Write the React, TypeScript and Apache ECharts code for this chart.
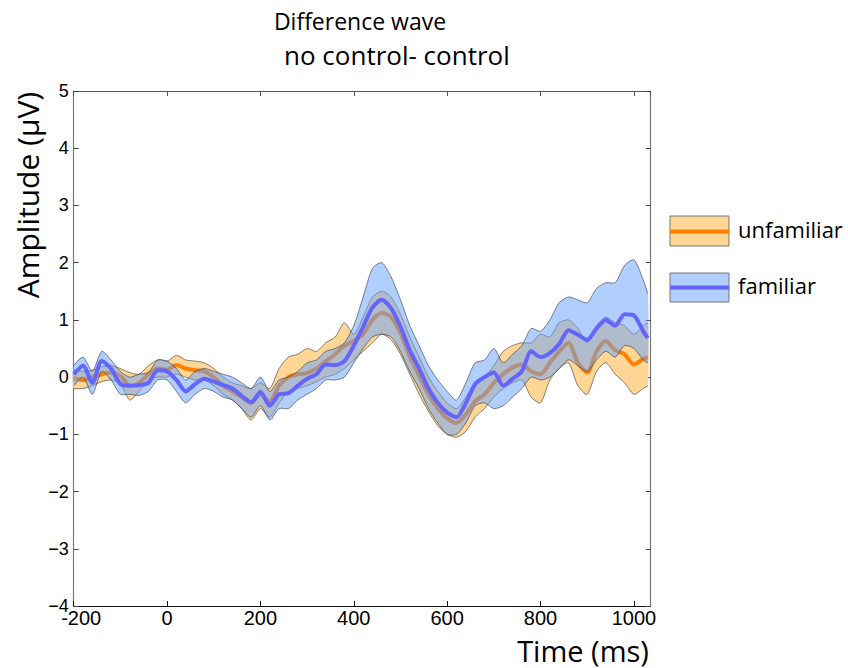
import React, { useEffect, useRef } from "react";
import * as echarts from "echarts";

const times = [-200, -180, -160, -140, -120, -100, -80, -60, -40, -20, 0, 20, 40, 60, 80, 100, 120, 140, 160, 180, 200, 220, 240, 260, 280, 300, 320, 340, 360, 380, 400, 420, 440, 460, 480, 500, 520, 540, 560, 580, 600, 620, 640, 660, 680, 700, 720, 740, 760, 780, 800, 820, 840, 860, 880, 900, 920, 940, 960, 980, 1000, 1020, 1030];

const unfamMean = [-0.02, -0.05, 0.0, 0.05, 0.08, 0.02, -0.15, -0.1, 0.05, 0.15, 0.13, 0.21, 0.15, 0.12, 0.1, 0.0, -0.15, -0.25, -0.35, -0.45, -0.3, -0.43, -0.15, 0.0, 0.05, 0.07, 0.15, 0.28, 0.4, 0.55, 0.63, 0.75, 1.0, 1.12, 1.05, 0.77, 0.36, 0.02, -0.3, -0.55, -0.72, -0.8, -0.65, -0.42, -0.3, -0.1, 0.05, 0.17, 0.22, 0.1, 0.05, 0.25, 0.45, 0.6, 0.25, 0.08, 0.45, 0.63, 0.47, 0.4, 0.22, 0.32, 0.35];
const unfamLow = [-0.2, -0.2, -0.15, -0.08, -0.05, -0.12, -0.4, -0.25, -0.05, 0.0, 0.0, 0.05, 0.0, -0.05, -0.05, -0.15, -0.3, -0.4, -0.55, -0.75, -0.55, -0.7, -0.45, -0.25, -0.2, -0.15, -0.08, 0.0, 0.05, 0.15, 0.3, 0.45, 0.6, 0.75, 0.65, 0.4, 0.05, -0.3, -0.6, -0.85, -1.0, -1.05, -0.95, -0.7, -0.55, -0.35, -0.2, -0.1, -0.05, -0.35, -0.45, -0.05, 0.15, 0.25, -0.15, -0.3, 0.1, 0.25, 0.05, -0.1, -0.3, -0.2, -0.15];
const unfamHigh = [0.12, 0.1, 0.12, 0.18, 0.2, 0.15, 0.08, 0.05, 0.2, 0.3, 0.28, 0.38, 0.3, 0.28, 0.25, 0.15, 0.0, -0.1, -0.15, -0.2, -0.1, -0.2, 0.15, 0.35, 0.4, 0.5, 0.45, 0.6, 0.7, 0.95, 0.75, 1.05, 1.4, 1.5, 1.4, 1.1, 0.7, 0.35, 0.0, -0.25, -0.45, -0.55, -0.35, -0.1, 0.0, 0.2, 0.45, 0.55, 0.6, 0.6, 0.75, 0.7, 0.95, 1.0, 0.85, 0.6, 0.9, 1.05, 0.95, 0.9, 0.75, 0.9, 0.95];

const famMean = [0.05, 0.2, -0.1, 0.28, 0.15, -0.12, -0.15, -0.14, -0.1, 0.12, 0.1, -0.05, -0.25, -0.12, -0.03, -0.08, -0.14, -0.2, -0.33, -0.44, -0.26, -0.5, -0.3, -0.28, -0.15, -0.03, 0.05, 0.22, 0.21, 0.28, 0.55, 0.88, 1.22, 1.35, 1.2, 0.88, 0.47, 0.15, -0.2, -0.45, -0.62, -0.7, -0.45, -0.12, 0.0, 0.08, -0.15, -0.03, 0.1, 0.45, 0.35, 0.42, 0.58, 0.82, 0.74, 0.65, 0.85, 1.0, 0.9, 1.1, 1.08, 0.8, 0.68];
const famLow = [-0.15, 0.0, -0.3, 0.1, -0.05, -0.3, -0.3, -0.32, -0.25, -0.05, -0.05, -0.25, -0.45, -0.3, -0.2, -0.25, -0.35, -0.4, -0.55, -0.7, -0.5, -0.75, -0.55, -0.55, -0.4, -0.3, -0.2, -0.05, -0.05, 0.0, 0.25, 0.5, 0.7, 0.75, 0.7, 0.45, 0.1, -0.2, -0.55, -0.8, -1.0, -1.0, -0.8, -0.5, -0.45, -0.55, -0.5, -0.35, -0.2, 0.0, -0.05, 0.0, 0.15, 0.3, 0.2, 0.1, 0.3, 0.45, 0.35, 0.55, 0.5, 0.3, 0.25];
const famHigh = [0.2, 0.35, 0.1, 0.45, 0.3, 0.1, 0.0, 0.05, 0.08, 0.3, 0.28, 0.15, -0.05, 0.1, 0.15, 0.1, 0.05, 0.0, -0.1, -0.2, 0.0, -0.25, -0.05, 0.0, 0.1, 0.25, 0.3, 0.45, 0.5, 0.6, 0.9, 1.4, 1.9, 2.0, 1.75, 1.35, 0.9, 0.55, 0.2, -0.05, -0.25, -0.4, -0.1, 0.25, 0.3, 0.5, 0.25, 0.4, 0.55, 0.85, 0.8, 1.0, 1.3, 1.4, 1.35, 1.3, 1.55, 1.65, 1.65, 1.95, 2.05, 1.7, 1.45];

const seriesNames = ["unfamiliar", "familiar"];
const titleLines = ["Difference wave", "no control- control"];
const axisTitles = ["Amplitude (\u03bcV)", "Time (ms)"];
const xTicks = { min: -200, max: 1036, step: 200 };
const yTicks = { min: -4, max: 5, step: 1 };

const ORANGE = "#FF8000";
const ORANGE_FILL = "rgb(255,214,150)";
const BLUE = "#6464FF";
const BLUE_FILL = "rgba(97,159,255,0.5)";
const UI_FONT = "'Open Sans', sans-serif";
const TICK_FONT = "'Liberation Sans', Arial, sans-serif";

function bandSeries(lo: number[], hi: number[], fill: string, z: number) {
  return {
    type: "custom",
    silent: true,
    z,
    data: [[times[0], lo[0]]],
    encode: { x: 0, y: 1 },
    renderItem: (_params: any, api: any) => {
      const up = times.map((t, i) => api.coord([t, hi[i]]));
      const dn = times.map((t, i) => api.coord([t, lo[i]]));
      const edge = { fill: "none", stroke: "#333", lineWidth: 0.7, opacity: 0.85 };
      return {
        type: "group",
        children: [
          { type: "polygon", shape: { points: up.concat(dn.slice().reverse()), smooth: 0.25 }, style: { fill, stroke: "none" } },
          { type: "polyline", shape: { points: up, smooth: 0.25 }, style: edge },
          { type: "polyline", shape: { points: dn, smooth: 0.25 }, style: edge },
        ],
      };
    },
  };
}

export default function App() {
  const ref = useRef<HTMLDivElement>(null);
  useEffect(() => {
    if (!ref.current) return;
    const chart = echarts.init(ref.current, null, { renderer: "svg" });
    const pair = (arr: number[]) => times.map((t, i) => [t, arr[i]]);
    const base = { type: "line", symbol: "none", smooth: 0.25, silent: true, animation: false };

    chart.setOption({
      animation: false,
      grid: { left: 73.7, top: 91, right: 197.3, bottom: 62, outerBoundsMode: "none", containLabel: false },
      xAxis: [
        {
          type: "value", min: xTicks.min, max: xTicks.max, interval: xTicks.step,
          axisLine: { show: true, onZero: false, lineStyle: { color: "#111", width: 1 } },
          axisTick: { show: true, inside: true, length: 5, lineStyle: { color: "#111" } },
          axisLabel: {
            show: true, color: "#000", fontFamily: TICK_FONT, fontSize: 20, lineHeight: 14, margin: 5,
            formatter: (v: number) => (v === -200 ? "{m|-200}" : String(v)),
            rich: { m: { padding: [0, 0, 0, 15], fontFamily: TICK_FONT, fontSize: 20, lineHeight: 14, color: "#000" } },
          },
          splitLine: { show: false },
        },
        {
          type: "value", position: "top", min: xTicks.min, max: xTicks.max, interval: xTicks.step,
          axisLine: { show: true, onZero: false, lineStyle: { color: "#555", width: 1 } },
          axisTick: { show: true, inside: true, length: 5, lineStyle: { color: "#555" } },
          axisLabel: { show: false }, splitLine: { show: false },
        },
      ],
      yAxis: [
        {
          type: "value", min: yTicks.min, max: yTicks.max, interval: yTicks.step,
          axisLine: { show: true, onZero: false, lineStyle: { color: "#777", width: 1.2 } },
          axisTick: { show: true, inside: true, length: 5, lineStyle: { color: "#444" } },
          axisLabel: {
            color: "#000", fontFamily: TICK_FONT, fontSize: 18, lineHeight: 10, margin: 5,
            formatter: (v: number) => (v < 0 ? "\u2212" + Math.abs(v) : String(v)),
          },
          splitLine: { show: false },
        },
        {
          type: "value", position: "right", min: yTicks.min, max: yTicks.max, interval: yTicks.step,
          axisLine: { show: true, onZero: false, lineStyle: { color: "#777", width: 1.2 } },
          axisTick: { show: true, inside: true, length: 5, lineStyle: { color: "#444" } },
          axisLabel: { show: false }, splitLine: { show: false },
        },
      ],
      series: [
        bandSeries(unfamLow, unfamHigh, ORANGE_FILL, 2),
        { ...base, name: seriesNames[0], data: pair(unfamMean), lineStyle: { color: ORANGE, width: 4 }, z: 3 },
        bandSeries(famLow, famHigh, BLUE_FILL, 4),
        { ...base, name: seriesNames[1], data: pair(famMean), lineStyle: { color: BLUE, width: 4 }, z: 5 },
      ],
      graphic: [
        { type: "text", x: 360, y: 21, style: { text: titleLines[0], font: `23px ${UI_FONT}`, fill: "#000", align: "center", verticalAlign: "middle" } },
        { type: "text", x: 284, y: 55, style: { text: titleLines[1], font: `26px ${UI_FONT}`, fill: "#000", align: "left", verticalAlign: "middle" } },
        { type: "text", x: 27, y: 195, rotation: Math.PI / 2, style: { text: axisTitles[0], font: `30px ${UI_FONT}`, fill: "#000", align: "center", verticalAlign: "middle" } },
        { type: "text", x: 583, y: 650, style: { text: axisTitles[1], font: `29px ${UI_FONT}`, fill: "#000", align: "center", verticalAlign: "middle" } },
        { type: "rect", shape: { x: 670, y: 216, width: 59, height: 30 }, style: { fill: ORANGE_FILL, stroke: "#777", lineWidth: 1 } },
        { type: "line", shape: { x1: 670, y1: 231.5, x2: 729, y2: 231.5 }, style: { stroke: ORANGE, lineWidth: 4 } },
        { type: "text", x: 738, y: 229, style: { text: seriesNames[0], font: `22px ${UI_FONT}`, fill: "#000", align: "left", verticalAlign: "middle" } },
        { type: "rect", shape: { x: 670, y: 273, width: 59, height: 29 }, style: { fill: "rgb(176,207,255)", stroke: "#777", lineWidth: 1 } },
        { type: "line", shape: { x1: 670, y1: 287.5, x2: 729, y2: 287.5 }, style: { stroke: BLUE, lineWidth: 4 } },
        { type: "text", x: 738, y: 285, style: { text: seriesNames[1], font: `22px ${UI_FONT}`, fill: "#000", align: "left", verticalAlign: "middle" } },
      ],
    });
    return () => chart.dispose();
  }, []);
  return <div ref={ref} style={{ width: 848, height: 668, position: "absolute", left: 0, top: 0, background: "#fff" }} />;
}
